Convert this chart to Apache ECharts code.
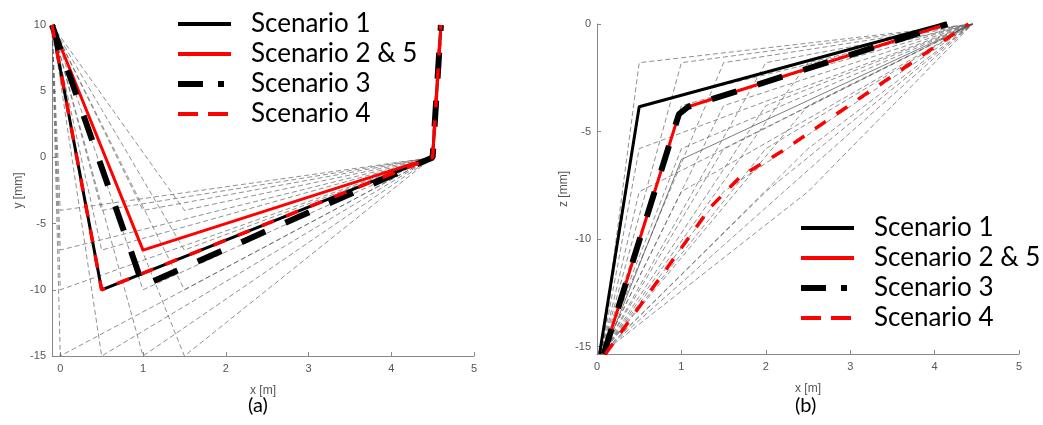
<!DOCTYPE html>
<html>
<head>
<meta charset="utf-8">
<script src="https://cdn.jsdelivr.net/npm/echarts@6/dist/echarts.min.js"></script>
<style>
  html, body { margin: 0; padding: 0; background: #fff; }
  #main { width: 1043px; height: 425px; }
</style>
</head>
<body>
<div id="main"></div>
<script>
// (a) x [m] vs y [mm]
var aS1X = [-0.1, 0.5, 4.5, 4.6];
var aS1Y = [10, -10, 0, 10];
var aS2X = [-0.1, 1, 4.5, 4.6];
var aS2Y = [10, -7, 0, 10];
var aS3X = [-0.1, 1, 4.5, 4.6];
var aS3Y = [10, -9.7, 0, 10];
var aS4X = [-0.1, 0.5, 4.5, 4.6];
var aS4Y = [10, -10, 0, 10];
// grey candidate paths in (a): start -> corner -> end
var aCornerX = [0, 0.5, 1, 1.5];
var aCornerY = [-4, -7, -10, -15];
var aStart = [-0.1, 10];
var aEnd = [4.5, 0];

// (b) x [m] vs z [mm]
var bS1X = [0.03, 0.5, 4.1];
var bS1Y = [-15.35, -3.85, 0];
var bS2X = [0.08, 0.97, 1.08, 4.15];
var bS2Y = [-15.35, -4.2, -3.85, 0];
var bS3X = [0.08, 0.97, 1.08, 4.15];
var bS3Y = [-15.35, -4.2, -3.85, 0];
var bS4X = [0.1, 1.35, 1.7, 2.2, 4.4];
var bS4Y = [-15.35, -8.5, -7.1, -5.9, 0];
var bCornerX = [0.5, 1, 1.5, 2, 2.5];
var bCornerY = [-1.8, -3.8, -5.8, -7.8];
var bStart = [0.05, -15.35];
var bEnd = [4.45, 0];
var bThinX = [0.08, 1.0, 4.45];
var bThinY = [-15.35, -6.3, 0];

var xTicks = [0, 1, 2, 3, 4, 5];
var aYTicks = [-15, -10, -5, 0, 5, 10];
var bYTicks = [-15, -10, -5, 0];
var names = ['Scenario 1', 'Scenario 2 & 5', 'Scenario 3', 'Scenario 4'];

function zip(xs, ys) {
    return xs.map(function (x, i) { return [x, ys[i]]; });
}

var lineStyles = [
    { color: '#000', width: 3, type: 'solid' },
    { color: '#ff0000', width: 3, type: 'solid' },
    { color: '#000', width: 6, type: [26, 22] },
    { color: '#ff0000', width: 3.5, type: [13, 13] }
];
var legendStyles = [
    { color: '#000', width: 4, type: 'solid' },
    { color: '#ff0000', width: 4, type: 'solid' },
    { color: '#000', width: 6, type: [25, 15, 6, 20] },
    { color: '#ff0000', width: 4, type: [20, 10] }
];

var greyStyle = { color: 'rgba(90,90,90,0.75)', width: 0.9, type: [5, 3] };

var series = [];
var n = 0;
function grey(idx, pts, style) {
    series.push({
        name: 'grey' + (n++), type: 'line', xAxisIndex: idx, yAxisIndex: idx,
        data: pts, symbol: 'none', silent: true, lineStyle: style || greyStyle, z: 1
    });
}
aCornerX.forEach(function (cx) {
    aCornerY.forEach(function (cy) {
        grey(0, [aStart, [cx, cy], aEnd]);
    });
});
bCornerX.forEach(function (cx) {
    bCornerY.forEach(function (cy) {
        grey(1, [bStart, [cx, cy], bEnd]);
    });
});
grey(1, [bStart, bEnd]);
grey(1, zip(bThinX, bThinY), { color: 'rgba(70,70,70,0.7)', width: 1, type: 'solid' });

var aData = [zip(aS1X, aS1Y), zip(aS2X, aS2Y), zip(aS3X, aS3Y), zip(aS4X, aS4Y)];
var bData = [zip(bS1X, bS1Y), zip(bS2X, bS2Y), zip(bS3X, bS3Y), zip(bS4X, bS4Y)];
[aData, bData].forEach(function (set, idx) {
    set.forEach(function (pts, k) {
        series.push({
            name: names[k], type: 'line', xAxisIndex: idx, yAxisIndex: idx,
            data: pts, symbol: 'none', lineStyle: lineStyles[k],
            itemStyle: { color: lineStyles[k].color }, z: 2 + k
        });
    });
});

var legendData = names.map(function (nm, k) {
    return { name: nm, lineStyle: legendStyles[k], itemStyle: { opacity: 0 } };
});

function legend(left, top) {
    return {
        orient: 'vertical', left: left, top: top, padding: 0, itemGap: 4,
        itemWidth: 53, itemHeight: 14, selectedMode: false, data: legendData,
        textStyle: { fontFamily: 'Lato', fontSize: 26, color: '#000', lineHeight: 26, padding: [0, 0, 0, 15] }
    };
}

var labelStyle = { color: '#555', fontSize: 11, fontFamily: 'Liberation Sans' };
var axisLine = { onZero: false, lineStyle: { color: '#888', width: 1 } };
var tick = { inside: true, length: 4, lineStyle: { color: '#888' } };

function xAxis(idx, min) {
    return {
        type: 'value', gridIndex: idx, min: min, max: 5,
        name: 'x [m]', nameLocation: 'middle', nameGap: 29,
        nameTextStyle: { color: '#555', fontSize: 12, fontFamily: 'Liberation Sans' },
        axisLine: axisLine, splitLine: { show: false },
        axisTick: Object.assign({ customValues: xTicks }, tick),
        axisLabel: Object.assign({ customValues: xTicks, margin: 7 }, labelStyle)
    };
}
function yAxis(idx, min, max, ticks, name) {
    return {
        type: 'value', gridIndex: idx, min: min, max: max,
        name: name, nameLocation: 'middle', nameGap: 27,
        nameTextStyle: { color: '#555', fontSize: 12, fontFamily: 'Liberation Sans' },
        axisLine: axisLine, splitLine: { show: false },
        axisTick: Object.assign({ customValues: ticks }, tick),
        axisLabel: Object.assign({ customValues: ticks, margin: 6 }, labelStyle)
    };
}

var chart = echarts.init(document.getElementById('main'));
chart.setOption({
    animation: false,
    backgroundColor: '#fff',
    grid: [
        { left: 52, top: 25, width: 422, height: 331 },
        { left: 597, top: 24, width: 422, height: 330 }
    ],
    xAxis: [xAxis(0, -0.1), xAxis(1, 0)],
    yAxis: [
        yAxis(0, -15, 10, aYTicks, 'y [mm]'),
        yAxis(1, -15.35, 0, bYTicks, 'z [mm]')
    ],
    legend: [legend(175, 11), legend(798, 215)],
    graphic: [
        { type: 'text', left: 248, top: 396, style: { text: '(a)', fontFamily: 'Lato', fontSize: 20, fill: '#000' } },
        { type: 'text', left: 795, top: 396, style: { text: '(b)', fontFamily: 'Lato', fontSize: 20, fill: '#000' } }
    ],
    series: series
});
</script>
</body>
</html>
